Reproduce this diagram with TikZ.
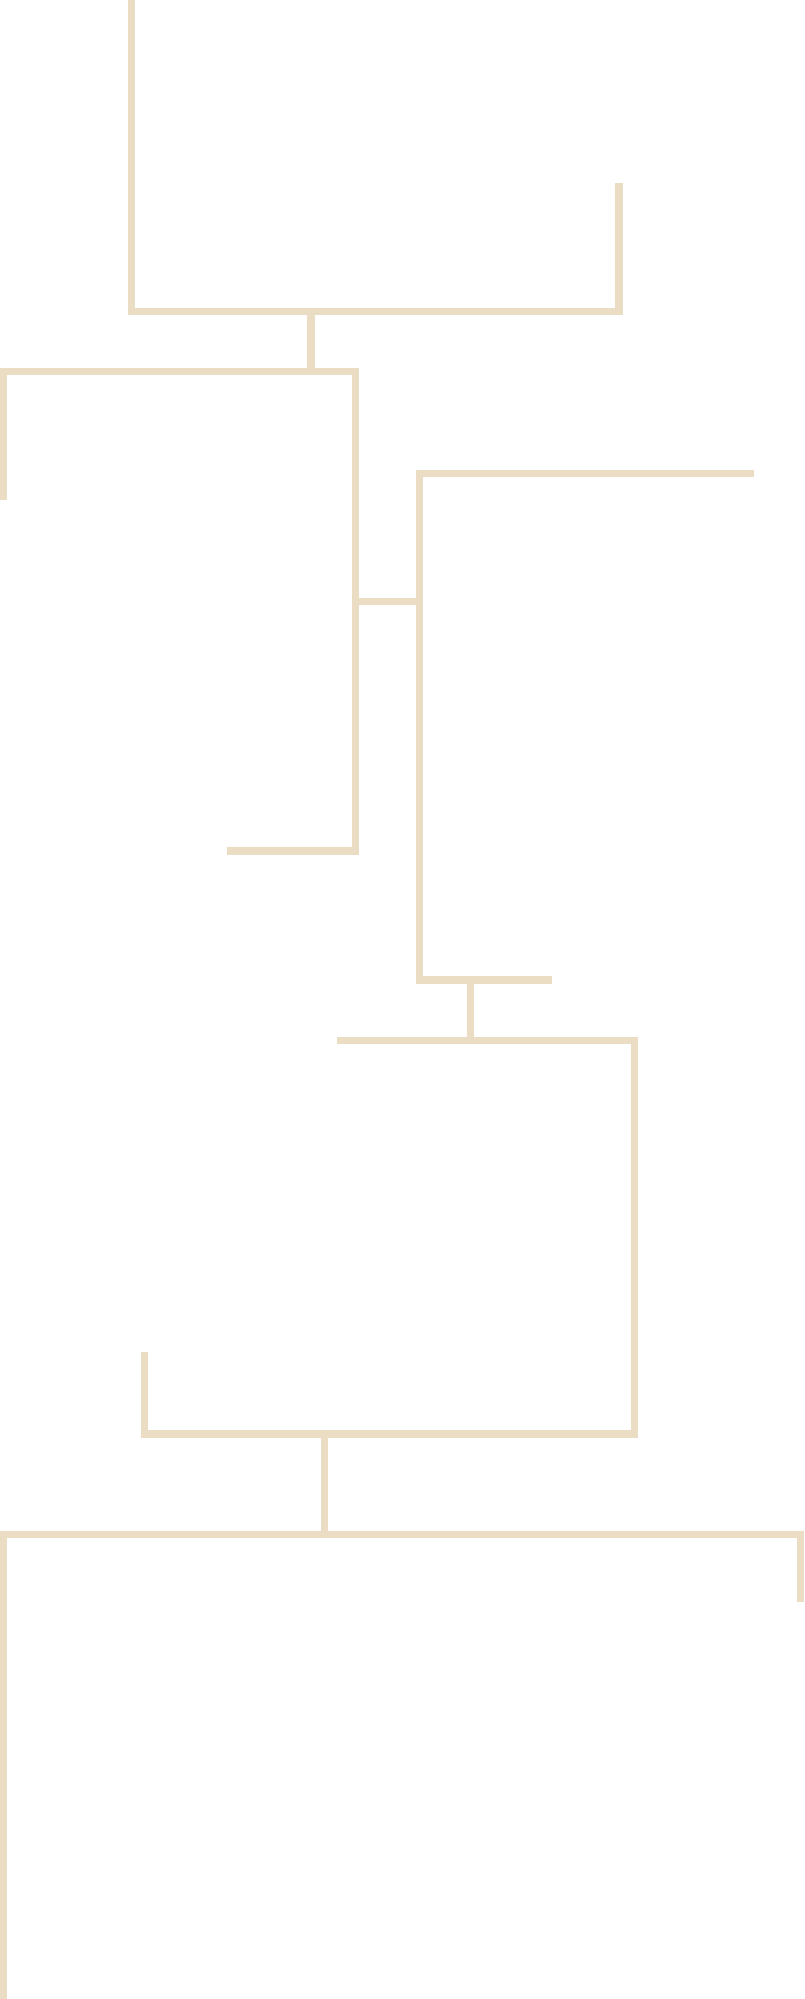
\documentclass[tikz,border=0pt]{standalone}
\definecolor{beige}{RGB}{235,220,196}
\begin{document}
\begin{tikzpicture}[x=1pt, y=-1pt, branch/.style={draw=beige, line width=7.3pt, line join=miter, line cap=butt}]
        \useasboundingbox[fill=white] (0,0) rectangle (804,1999);

        % first bracket
        \coordinate (a0) at (131.7,0);
        \coordinate (a1) at (131.7,311.5);
        \coordinate (a2) at (619,311.5);
        \coordinate (a3) at (619,182.7);
        \coordinate (a4) at (311,311.5);
        % second bracket
        \coordinate (b0) at (3.7,500.3);
        \coordinate (b1) at (3.7,371.7);
        \coordinate (b2) at (355.5,371.7);
        \coordinate (b3) at (355.5,851);
        \coordinate (b4) at (227,851);
        \coordinate (b5) at (311,371.7);
        \coordinate (b6) at (355.5,601.8);
        % third bracket
        \coordinate (c0) at (754,473.7);
        \coordinate (c1) at (419.5,473.7);
        \coordinate (c2) at (419.5,980);
        \coordinate (c3) at (552,980);
        \coordinate (c4) at (419.5,601.8);
        \coordinate (c5) at (470.3,980);
        % fourth bracket
        \coordinate (d0) at (337.3,1040.7);
        \coordinate (d1) at (634.3,1040.7);
        \coordinate (d2) at (634.3,1434);
        \coordinate (d3) at (144.5,1434);
        \coordinate (d4) at (144.5,1352);
        \coordinate (d5) at (470.3,1040.7);
        \coordinate (d6) at (324.3,1434);
        % last bracket
        \coordinate (e0) at (3.7,1999);
        \coordinate (e1) at (3.7,1534.7);
        \coordinate (e2) at (800.3,1534.7);
        \coordinate (e3) at (800.3,1602.3);
        \coordinate (e4) at (324.3,1534.7);

        \draw[branch] (a0) -- (a1) -- (a2) -- (a3);
        \draw[branch] (a4) -- (b5);
        \draw[branch] (b0) -- (b1) -- (b2) -- (b3) -- (b4);
        \draw[branch] (b6) -- (c4);
        \draw[branch] (c0) -- (c1) -- (c2) -- (c3);
        \draw[branch] (c5) -- (d5);
        \draw[branch] (d0) -- (d1) -- (d2) -- (d3) -- (d4);
        \draw[branch] (d6) -- (e4);
        \draw[branch] (e0) -- (e1) -- (e2) -- (e3);
      \end{tikzpicture}
\end{document}
